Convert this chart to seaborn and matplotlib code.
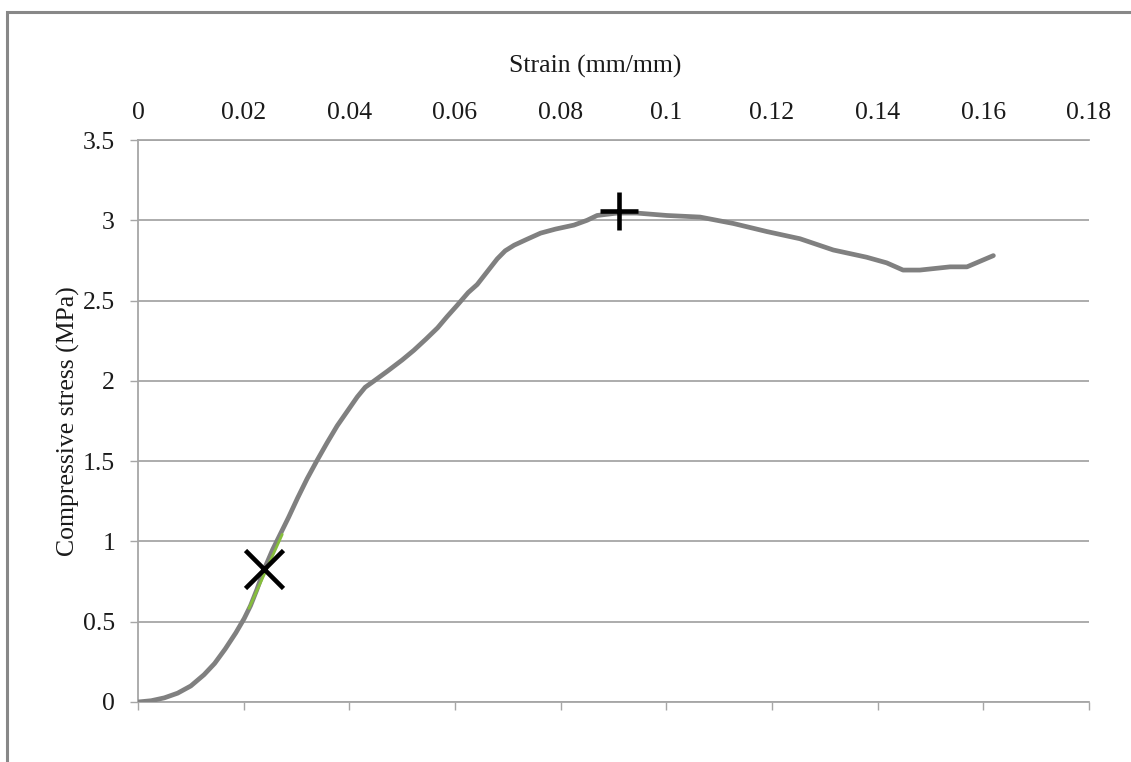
import matplotlib
matplotlib.use("Agg")
import matplotlib.pyplot as plt
import seaborn as sns
import pandas as pd
from matplotlib.patches import Rectangle

# ---- data ----
strain = [0, 0.0025, 0.005, 0.0075, 0.010, 0.0125, 0.0145, 0.0165, 0.0185, 0.0201,
          0.0213, 0.0225, 0.0238, 0.0255, 0.027, 0.0285, 0.0302, 0.032, 0.0339, 0.0358,
          0.0377, 0.0396, 0.0415, 0.043, 0.0447, 0.0472, 0.050, 0.0522, 0.0545, 0.0567,
          0.0585, 0.0604, 0.0625, 0.0642, 0.0661, 0.068, 0.0695, 0.0712, 0.0735, 0.0762,
          0.079, 0.0825, 0.085, 0.0869, 0.0907, 0.0944, 0.1001, 0.1064, 0.1127, 0.119,
          0.1253, 0.1316, 0.1379, 0.1417, 0.1448, 0.148, 0.1537, 0.1569, 0.1594, 0.1619]
stress = [0, 0.008, 0.026, 0.055, 0.10, 0.17, 0.24, 0.33, 0.43, 0.52,
          0.60, 0.70, 0.82, 0.95, 1.05, 1.15, 1.27, 1.39, 1.505, 1.615,
          1.72, 1.81, 1.90, 1.96, 2.00, 2.06, 2.13, 2.19, 2.26, 2.33,
          2.40, 2.47, 2.55, 2.60, 2.68, 2.76, 2.81, 2.845, 2.88, 2.92,
          2.945, 2.97, 3.00, 3.03, 3.045, 3.045, 3.03, 3.02, 2.98, 2.93,
          2.885, 2.815, 2.77, 2.735, 2.69, 2.69, 2.71, 2.71, 2.745, 2.78]

tangent_strain = [0.0210, 0.0273]
tangent_stress = [0.583, 1.044]

cross_point = (0.0238, 0.83)   # "x" marker
plus_point = (0.091, 3.06)     # "+" marker

xticks = [0, 0.02, 0.04, 0.06, 0.08, 0.10, 0.12, 0.14, 0.16, 0.18]
xticklabels = ["0", "0.02", "0.04", "0.06", "0.08", "0.1", "0.12", "0.14", "0.16", "0.18"]
yticks = [0, 0.5, 1.0, 1.5, 2.0, 2.5, 3.0, 3.5]
yticklabels = ["0", "0.5", "1", "1.5", "2", "2.5", "3", "3.5"]

x_title = "Strain (mm/mm)"
y_title = "Compressive stress (MPa)"

# ---- style ----
sns.set_theme(style="white")
plt.rcParams['font.family'] = ['Liberation Serif', 'DejaVu Serif']

W, H = 1131, 762
fig = plt.figure(figsize=(W / 100, H / 100), dpi=100)
ax = fig.add_axes([138 / W, 1 - 702 / H, (1089 - 138) / W, (702 - 140) / H])

grid_col = "#A6A6A6"
df = pd.DataFrame({"strain": strain, "stress": stress})
sns.lineplot(data=df, x="strain", y="stress", ax=ax, color="#808080", lw=3.4,
             sort=False, estimator=None, zorder=3)
tdf = pd.DataFrame({"strain": tangent_strain, "stress": tangent_stress})
sns.lineplot(data=tdf, x="strain", y="stress", ax=ax, color="#86BE3C", lw=2.0,
             estimator=None, zorder=4)

ax.plot([cross_point[0]], [cross_point[1]], marker="x", color="black",
        markersize=28, markeredgewidth=3.3, linestyle="none", zorder=5)
ax.plot([plus_point[0]], [plus_point[1]], marker="+", color="black",
        markersize=28, markeredgewidth=3.3, linestyle="none", zorder=5)

ax.set_xlim(0, 0.18)
ax.set_ylim(0, 3.5)
ax.set_xticks(xticks)
ax.set_xticklabels(xticklabels)
ax.set_yticks(yticks)
ax.set_yticklabels(yticklabels)

ax.grid(axis="y", color=grid_col, lw=1.3)
ax.grid(axis="x", visible=False)
ax.spines["right"].set_visible(False)
for side in ["left", "bottom", "top"]:
    ax.spines[side].set_visible(True)
    ax.spines[side].set_color(grid_col)
    ax.spines[side].set_linewidth(1.3)

ax.tick_params(axis="x", which="both", bottom=True, top=False, labelbottom=False,
               labeltop=True, direction="out", length=5.5, width=1.0,
               color=grid_col, labelsize=18.5, pad=6, labelcolor="#1a1a1a")
ax.tick_params(axis="y", left=True, direction="out", length=5.5, width=1.0,
               color=grid_col, labelsize=18.5, pad=11, labelcolor="#1a1a1a")

ax.xaxis.set_label_position("top")
ax.set_xlabel(x_title, fontsize=18.5, color="#1a1a1a")
ax.xaxis.set_label_coords((595 - 138) / 951, (702 - 73) / 562)
ax.set_ylabel(y_title, fontsize=18.5, color="#1a1a1a")
ax.yaxis.set_label_coords((80 - 138) / 951, 0.5)

# outer chart border (extends beyond right/bottom edges)
fig.patches.append(Rectangle((7 / W, -0.2), 1.5, (1 - 12 / H) + 0.2,
                             transform=fig.transFigure, fill=False,
                             edgecolor="#888888", lw=2.2, zorder=0))

fig.savefig("out.png", dpi=100)
